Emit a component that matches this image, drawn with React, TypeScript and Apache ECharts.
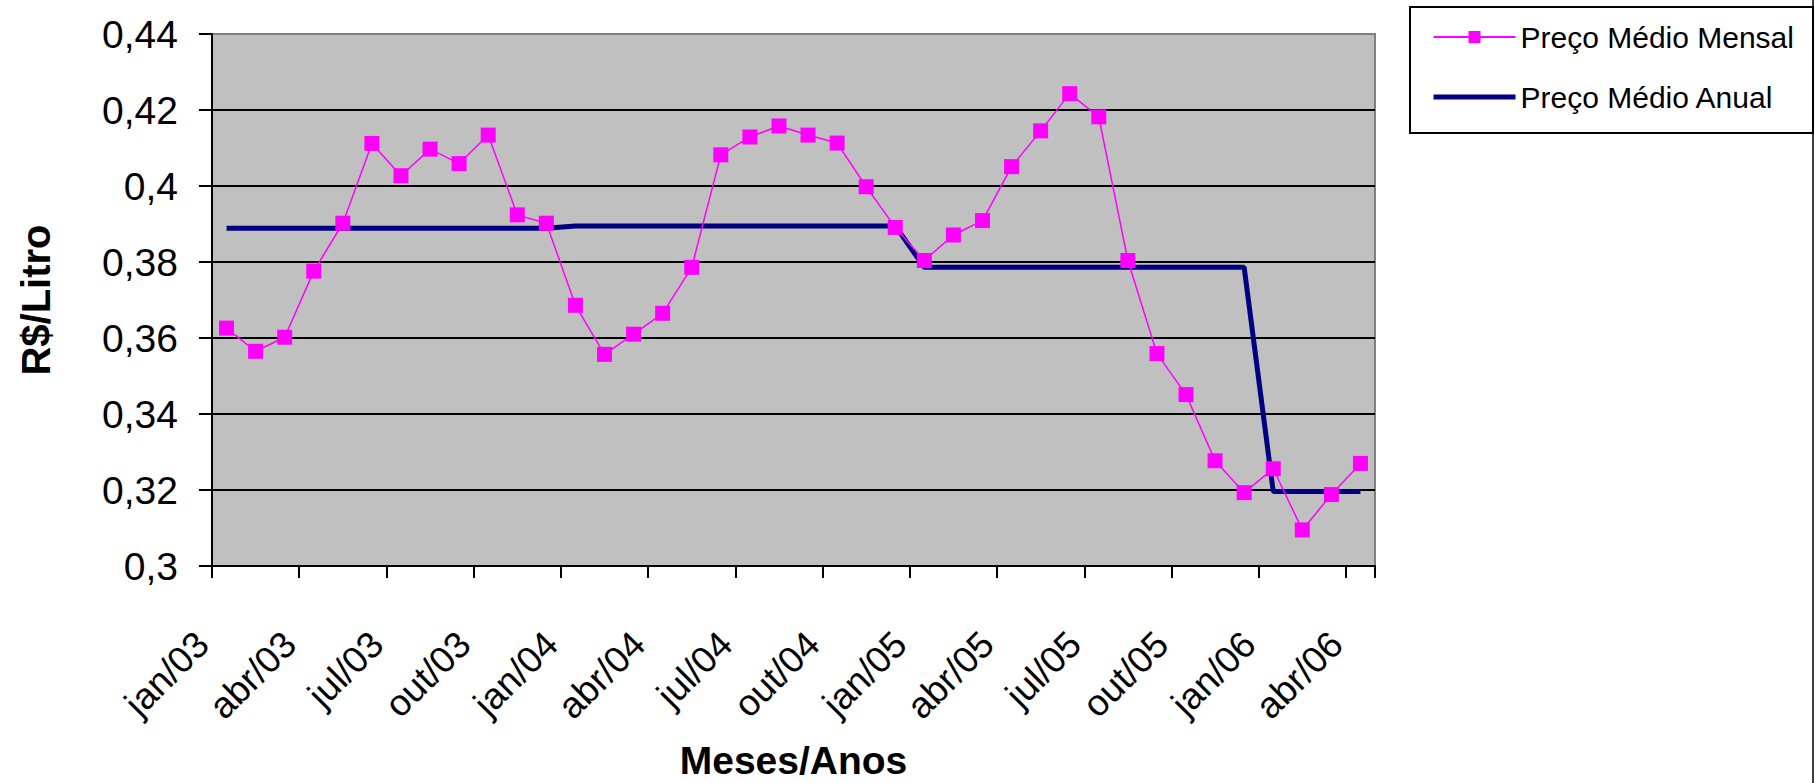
import React, { useEffect, useRef } from 'react';
import * as echarts from 'echarts';

const categories = [
  'jan/03', 'fev/03', 'mar/03', 'abr/03', 'mai/03', 'jun/03', 'jul/03', 'ago/03', 'set/03', 'out/03', 'nov/03', 'dez/03',
  'jan/04', 'fev/04', 'mar/04', 'abr/04', 'mai/04', 'jun/04', 'jul/04', 'ago/04', 'set/04', 'out/04', 'nov/04', 'dez/04',
  'jan/05', 'fev/05', 'mar/05', 'abr/05', 'mai/05', 'jun/05', 'jul/05', 'ago/05', 'set/05', 'out/05', 'nov/05', 'dez/05',
  'jan/06', 'fev/06', 'mar/06', 'abr/06',
];

const monthlyPrice = [
  0.3626, 0.3565, 0.3602, 0.3776, 0.3902, 0.4112, 0.4027, 0.4097, 0.4059, 0.4134, 0.3924, 0.3902,
  0.3686, 0.3557, 0.3610, 0.3665, 0.3786, 0.4082, 0.4129, 0.4158, 0.4134, 0.4113, 0.3998, 0.3891,
  0.3804, 0.3871, 0.3909, 0.4051, 0.4145, 0.4243, 0.4182, 0.3804, 0.3559, 0.3451, 0.3277, 0.3193,
  0.3256, 0.3095, 0.3188, 0.3270,
];

const annualYears = ['03', '04', '05', '06'];
const annualPrice = [0.3889, 0.3895, 0.3786, 0.3196];

const seriesNames = ['Preço Médio Mensal', 'Preço Médio Anual'];

export default function App() {
  const ref = useRef<HTMLDivElement>(null);

  useEffect(() => {
    const chart = echarts.init(ref.current!, null, { renderer: 'svg' });
    const font = 'Liberation Sans';
    const annualSeries = categories.map((c) => annualPrice[annualYears.indexOf(c.slice(-2))]);

    chart.setOption({
      animation: false,
      textStyle: { fontFamily: font, color: '#000' },
      grid: {
        left: 212,
        top: 34,
        width: 1163,
        height: 532,
        show: true,
        backgroundColor: '#C0C0C0',
        borderColor: '#808080',
        borderWidth: 2,
        containLabel: false,
        outerBoundsMode: 'none',
      },
      legend: {
        orient: 'vertical',
        left: 1431,
        top: 22,
        itemWidth: 82,
        itemHeight: 15,
        itemGap: 30,
        padding: 0,
        data: [
          { name: seriesNames[0] },
          { name: seriesNames[1], itemStyle: { opacity: 0 }, lineStyle: { width: 5, color: '#000080' } },
        ],
        textStyle: { fontFamily: font, fontSize: 30, color: '#000' },
      },
      xAxis: {
        type: 'category',
        data: categories,
        boundaryGap: true,
        name: 'Meses/Anos',
        nameLocation: 'middle',
        nameGap: 178,
        nameMoveOverlap: false,
        nameTextStyle: { fontFamily: font, fontSize: 39, lineHeight: 32, fontWeight: 'bold', color: '#000' },
        axisLine: { show: true, lineStyle: { color: '#000', width: 2 } },
        axisTick: { show: true, interval: 2, length: 12, lineStyle: { color: '#000', width: 2 } },
        axisLabel: {
          interval: 2,
          rotate: 45,
          margin: 48,
          padding: [0, 34, 0, 0],
          fontFamily: font,
          fontSize: 37,
          color: '#000',
          hideOverlap: false,
        },
        splitLine: { show: false },
      },
      yAxis: {
        type: 'value',
        min: 0.3,
        max: 0.44,
        interval: 0.02,
        name: 'R$/Litro',
        nameLocation: 'middle',
        nameGap: 156,
        nameMoveOverlap: false,
        nameTextStyle: { fontFamily: font, fontSize: 40, fontWeight: 'bold', color: '#000' },
        axisLine: { show: true, lineStyle: { color: '#000', width: 2 } },
        axisTick: { show: true, length: 13, lineStyle: { color: '#000', width: 2 } },
        axisLabel: {
          margin: 34,
          fontFamily: font,
          fontSize: 39,
          color: '#000',
          formatter: (v: number) => v.toFixed(2).replace(/0$/, '').replace('.', ','),
        },
        splitLine: {
          show: true,
          lineStyle: {
            color: ['#000', '#000', '#000', '#000', '#000', '#000', '#000', '#808080'],
            width: 2,
          },
        },
      },
      series: [
        {
          name: seriesNames[1],
          type: 'line',
          data: annualSeries,
          symbol: 'none',
          itemStyle: { color: '#000080' },
          lineStyle: { color: '#000080', width: 5 },
          emphasis: { disabled: true },
          z: 2,
        },
        {
          name: seriesNames[0],
          type: 'line',
          data: monthlyPrice,
          symbol: 'rect',
          symbolSize: 15,
          itemStyle: { color: '#FF00FF' },
          lineStyle: { color: '#FF00FF', width: 1.5 },
          emphasis: { disabled: true },
          z: 3,
        },
      ],
      graphic: [
        {
          type: 'rect',
          shape: { x: 1410, y: 7, width: 403, height: 126 },
          style: { fill: 'none', stroke: '#000', lineWidth: 2 },
          z: 10,
        },
        {
          type: 'line',
          shape: { x1: 1813, y1: 0, x2: 1813, y2: 783 },
          style: { stroke: '#000', lineWidth: 1.5 },
          z: 10,
        },
      ],
    });

    return () => chart.dispose();
  }, []);

  return (
    <div
      ref={ref}
      style={{ position: 'absolute', left: 0, top: 0, width: 1815, height: 783 }}
    />
  );
}
